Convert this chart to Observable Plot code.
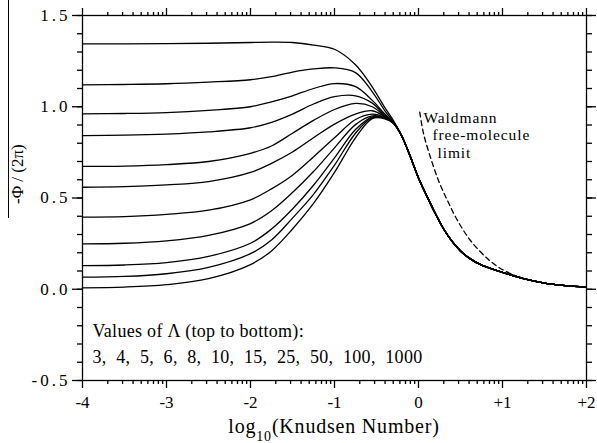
<!DOCTYPE html>
<html><head><meta charset="utf-8">
<script src="https://cdn.jsdelivr.net/npm/d3@7"></script>
<script src="https://cdn.jsdelivr.net/npm/@observablehq/plot@0.6"></script>
<style>
html,body{margin:0;padding:0;background:#fff;}
#chart{position:relative;width:597px;height:443px;}
#chart svg{font-family:"Liberation Serif","Times New Roman",serif;}
#chart text{white-space:pre;}
#chart g[aria-label="y-axis tick label"] text{letter-spacing:3px;}
#bar{position:absolute;left:8px;top:0;width:1px;height:218px;background:#000;}
</style></head><body><div id="chart"><div id="bar"></div></div>
<script>
// ---- data ----
const lambdas = [3, 4, 5, 6, 8, 10, 15, 25, 50, 100, 1000];
const xHead = [-4, -3.5, -3, -2.5, -2, -1.75, -1.5, -1.25, -1, -0.75, -0.55, -0.4, -0.3];
const yL3    = [1.345, 1.345, 1.346, 1.348, 1.352, 1.354, 1.352, 1.338, 1.315, 1.23, 1.108, 0.995, 0.926];
const yL4    = [1.12, 1.122, 1.126, 1.135, 1.148, 1.165, 1.19, 1.207, 1.213, 1.187, 1.082, 0.978, 0.918];
const yL5    = [0.961, 0.963, 0.968, 0.98, 1.0, 1.027, 1.06, 1.1, 1.127, 1.11, 1.035, 0.96, 0.916];
const yL6    = [0.842, 0.844, 0.85, 0.862, 0.885, 0.915, 0.96, 1.015, 1.055, 1.06, 1.02, 0.952, 0.915];
const yL8    = [0.673, 0.675, 0.683, 0.70, 0.745, 0.785, 0.855, 0.925, 0.985, 1.018, 1.0, 0.948, 0.914];
const yL10   = [0.559, 0.562, 0.572, 0.59, 0.64, 0.69, 0.752, 0.83, 0.905, 0.96, 0.978, 0.945, 0.913];
const yL15   = [0.395, 0.398, 0.41, 0.433, 0.49, 0.55, 0.625, 0.725, 0.83, 0.93, 0.96, 0.942, 0.912];
const yL25   = [0.249, 0.252, 0.265, 0.295, 0.36, 0.43, 0.53, 0.645, 0.775, 0.902, 0.95, 0.94, 0.912];
const yL50   = [0.13, 0.133, 0.146, 0.18, 0.252, 0.33, 0.44, 0.57, 0.72, 0.875, 0.945, 0.938, 0.911];
const yL100  = [0.066, 0.07, 0.085, 0.12, 0.195, 0.27, 0.39, 0.52, 0.68, 0.855, 0.94, 0.936, 0.911];
const yL1000 = [0.008, 0.012, 0.025, 0.058, 0.135, 0.21, 0.33, 0.47, 0.64, 0.83, 0.935, 0.934, 0.91];
// common free-molecule tail shared by all curves
const xTail = [-0.2, -0.1, 0, 0.1, 0.2, 0.3, 0.4, 0.5, 0.6, 0.75, 1, 1.25, 1.5, 1.75, 2];
const yTail = [0.84, 0.73, 0.61, 0.51, 0.415, 0.33, 0.262, 0.21, 0.172, 0.132, 0.093, 0.058, 0.034, 0.02, 0.012];
// Waldmann free-molecule limit (dashed)
const xWald = [0.015, 0.06, 0.143, 0.238, 0.345, 0.464, 0.619, 0.82, 0.976, 1.15];
const yWald = [0.97, 0.853, 0.722, 0.596, 0.486, 0.377, 0.267, 0.168, 0.114, 0.075];
// ticks and labels
const xMajor = [-4, -3, -2, -1, 0, 1, 2];
const xTickLabels = ["-4", "-3", "-2", "-1", "0", "+1", "+2"];
const yMajor = [-0.5, 0, 0.5, 1, 1.5];
const yTickLabels = ["-0.5", "0.0", "0.5", "1.0", "1.5"];
const yTitle = "-\u03A6 / (2\u03C0)";
const xTitleParts = ["log", "10", "(Knudsen Number)"];
const legendHeader = "Values of \u039B (top to bottom):";
const waldText = ["Waldmann", "free-molecule", "limit"];

// ---- build tables ----
const seriesY = [yL3, yL4, yL5, yL6, yL8, yL10, yL15, yL25, yL50, yL100, yL1000];
const rows = [];
lambdas.forEach((lam, i) => {
  xHead.forEach((x, j) => rows.push({lam, x, y: seriesY[i][j]}));
  xTail.forEach((x, j) => rows.push({lam, x, y: yTail[j]}));
});
const wald = xWald.map((x, i) => ({x, y: yWald[i]}));
const xMinor = [];
for (let d = -4; d < 2; d++) for (let k = 2; k <= 9; k++) xMinor.push(d + Math.log10(k));
const yMinor = d3.range(-5, 16).map(i => i / 10);
const xLab = new Map(xMajor.map((v, i) => [v, xTickLabels[i]]));
const yLab = new Map(yMajor.map((v, i) => [v, yTickLabels[i]]));
const legendText = legendHeader + "\n" + lambdas.join(",\u00a0 ");

const sw = 1.3;
const plot = Plot.plot({
  width: 597, height: 443,
  marginLeft: 82, marginRight: 11, marginTop: 15, marginBottom: 63,
  x: {domain: [-4, 2]},
  y: {domain: [-0.5, 1.5]},
  style: {fontFamily: "Liberation Serif, Times New Roman, serif", background: "white", color: "black", overflow: "visible"},
  marks: [
    Plot.axisY(yMajor, {anchor: "left", tickSize: 10, tickPadding: 2, tickFormat: d => yLab.get(d), fontSize: 17, label: null, strokeWidth: sw}),
    Plot.axisY(yMinor, {anchor: "left", tickSize: 5, fill: "none", label: null, strokeWidth: sw}),
    Plot.axisY(yMajor, {anchor: "right", tickSize: 9, fill: "none", label: null, strokeWidth: sw}),
    Plot.axisY(yMinor, {anchor: "right", tickSize: 5, fill: "none", label: null, strokeWidth: sw}),
    Plot.axisX(xMajor, {anchor: "bottom", tickSize: 8, tickPadding: 7, tickFormat: d => xLab.get(d), fontSize: 17, label: null, strokeWidth: sw}),
    Plot.axisX(xMinor, {anchor: "bottom", tickSize: 4, fill: "none", label: null, strokeWidth: sw}),
    Plot.axisX(xMajor, {anchor: "top", tickSize: 8, fill: "none", label: null, strokeWidth: sw}),
    Plot.axisX(xMinor, {anchor: "top", tickSize: 4, fill: "none", label: null, strokeWidth: sw}),
    Plot.frame({stroke: "black", strokeWidth: sw}),
    Plot.line(rows, {x: "x", y: "y", z: "lam", stroke: "black", strokeWidth: 1.3, curve: "catmull-rom"}),
    Plot.line(wald, {x: "x", y: "y", stroke: "black", strokeWidth: 1.3, strokeDasharray: "5,3.5", curve: "catmull-rom"}),
    Plot.text([waldText[0]], {frameAnchor: "top-left", dx: 341, dy: 107, textAnchor: "start", lineAnchor: "bottom", fontSize: 15.5}),
    Plot.text([waldText[1]], {frameAnchor: "top-left", dx: 350, dy: 124.5, textAnchor: "start", lineAnchor: "bottom", fontSize: 15.5}),
    Plot.text([waldText[2]], {frameAnchor: "top-left", dx: 355, dy: 142.5, textAnchor: "start", lineAnchor: "bottom", fontSize: 15.5}),
    Plot.text([legendText], {frameAnchor: "bottom-left", dx: 10, dy: -18, textAnchor: "start", lineAnchor: "bottom", lineHeight: 1.39, fontSize: 18}),
    Plot.text([yTitle], {frameAnchor: "left", dx: -65, dy: 6, rotate: -90, fontSize: 17})
  ]
});

// letter spacing to match the reference's wider type
d3.select(plot).selectAll("text").filter(function() {
  const s = this.textContent;
  return s.startsWith("Waldmann") || s.startsWith("free") || s.startsWith("limit");
}).style("letter-spacing", "0.9px");
d3.select(plot).selectAll("text").filter(function() {
  return this.textContent.startsWith("Values");
}).style("letter-spacing", "0.3px");

// x-axis title with subscript
const svg = d3.select(plot);
const xs = plot.scale("x");
const t = svg.append("text")
  .attr("x", xs.apply(-1)).attr("y", 433)
  .attr("text-anchor", "middle").attr("font-size", 20).attr("fill", "black")
  .style("letter-spacing", "0.8px");
t.append("tspan").text(xTitleParts[0]);
t.append("tspan").attr("font-size", 14).attr("dy", 8).text(xTitleParts[1]);
t.append("tspan").attr("dy", -8).text(xTitleParts[2]);

document.getElementById("chart").appendChild(plot);
</script></body></html>
